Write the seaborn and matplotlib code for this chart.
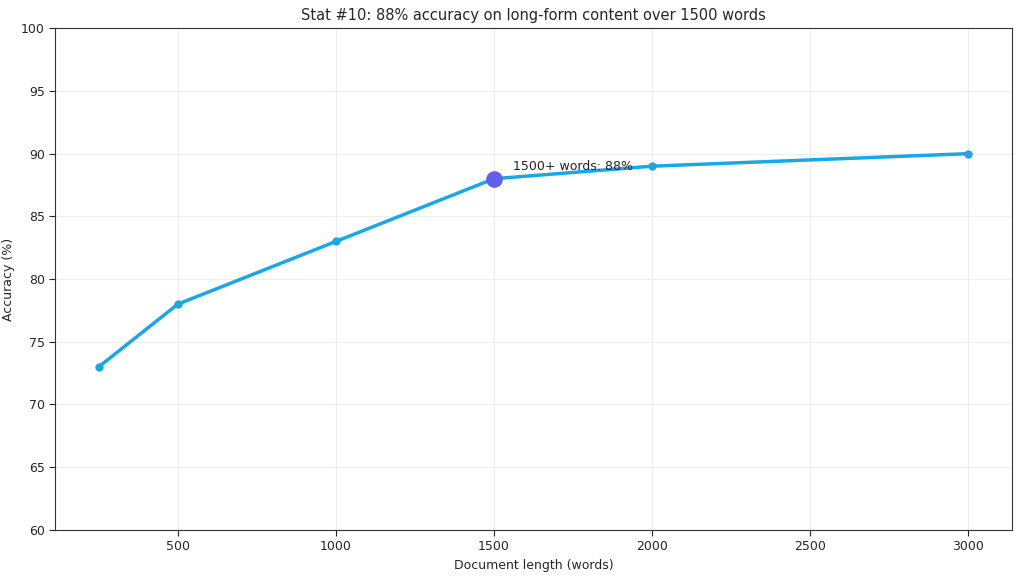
import matplotlib
matplotlib.use("Agg")
import matplotlib.pyplot as plt
import seaborn as sns
import pandas as pd

words = [250, 500, 1000, 1500, 2000, 3000]
accuracy = [73, 78, 83, 88, 89, 90]
highlight_x = 1500
highlight_y = 88
label = "1500+ words: 88%"

sns.set_style("white")
plt.rcParams['font.family'] = ['DejaVu Sans']
fig, ax = plt.subplots(figsize=(10.24, 5.76), dpi=100)
df = pd.DataFrame({"words": words, "acc": accuracy})
sns.lineplot(data=df, x="words", y="acc", ax=ax, color="#1aa7e8", linewidth=2.5,
             marker="o", markersize=6, markeredgewidth=0)
ax.scatter([highlight_x], [highlight_y], s=120, color="#6060ee", zorder=5)
ax.annotate(label, (highlight_x, highlight_y), xytext=(14, 6), textcoords="offset points",
            fontsize=9, color="#222222")
ax.set_ylim(60, 100)
ax.grid(True, color="#eeeeee", linewidth=0.8)
ax.set_title("Stat #10: 88% accuracy on long-form content over 1500 words", fontsize=10.5)
ax.set_xlabel("Document length (words)", fontsize=9)
ax.set_ylabel("Accuracy (%)", fontsize=9)
for s in ax.spines.values():
    s.set_color("#333333")
ax.tick_params(left=True, bottom=True, length=4, labelsize=9)
plt.subplots_adjust(left=0.054, right=0.988, top=0.951, bottom=0.08)
fig.savefig("out.png", dpi=100)
